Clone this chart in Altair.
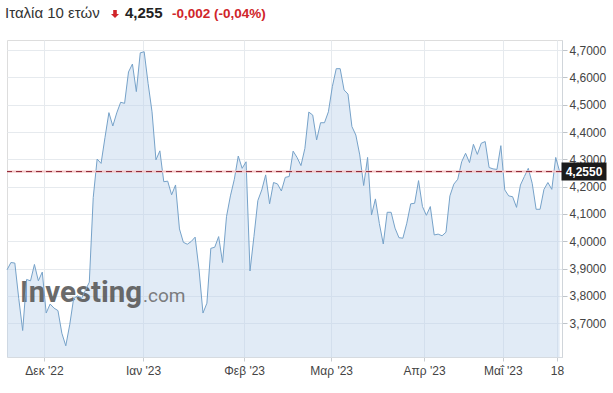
import json
import altair as alt
import pandas as pd

# ---- data (Italy 10Y yield) ----
yields = [
    3.895, 3.922, 3.920, 3.790, 3.673, 3.860, 3.855, 3.915, 3.855, 3.887,
    3.737, 3.770, 3.755, 3.746, 3.663, 3.617, 3.694, 3.790, 3.800, 3.790,
    3.820, 3.850, 4.160, 4.301, 4.285, 4.380, 4.471, 4.422, 4.470, 4.509,
    4.505, 4.620, 4.649, 4.548, 4.690, 4.694, 4.578, 4.474, 4.298, 4.331,
    4.218, 4.220, 4.170, 4.206, 4.045, 3.996, 3.989, 3.999, 4.015, 3.895,
    3.737, 3.773, 3.974, 3.978, 4.017, 3.922, 4.090, 4.166, 4.227, 4.312,
    4.267, 4.291, 3.891, 4.017, 4.149, 4.188, 4.243, 4.137, 4.215, 4.210,
    4.184, 4.234, 4.237, 4.330, 4.307, 4.277, 4.340, 4.473, 4.462, 4.371,
    4.434, 4.434, 4.474, 4.566, 4.632, 4.632, 4.554, 4.539, 4.420, 4.389,
    4.316, 4.204, 4.307, 4.096, 4.155, 4.065, 3.990, 4.106, 4.106, 4.048,
    4.013, 4.011, 4.066, 4.137, 4.139, 4.222, 4.127, 4.095, 4.127, 4.023,
    4.026, 4.020, 4.033, 4.166, 4.209, 4.227, 4.291, 4.322, 4.288, 4.355,
    4.318, 4.359, 4.365, 4.270, 4.265, 4.263, 4.350, 4.188, 4.166, 4.163,
    4.124, 4.206, 4.237, 4.267, 4.212, 4.117, 4.117, 4.190, 4.215, 4.190,
    4.307, 4.255,
]
tick_pos = [9.44, 34.7, 60.5, 82.7, 106.4, 126.5, 140.3]
tick_labels = ["Δεκ '22", "Ιαν '23", "Φεβ '23", "Μαρ '23", "Απρ '23", "Μαΐ '23", "18"]
y_ticks = [3.7, 3.8, 3.9, 4.0, 4.1, 4.2, 4.3, 4.4, 4.5, 4.6, 4.7]
last_price = [4.255]
title_name = "Ιταλία 10 ετών"
title_price = "4,255"
title_change = "-0,002 (-0,04%)"
box_label = "4,2550"

W, H = 555, 317
Y_DOMAIN = [3.576, 4.737]
X_DOMAIN = [0, 141.6]
FONT = "Liberation Sans"

df = pd.DataFrame({"i": list(range(len(yields))), "v": yields})
pdf = pd.DataFrame({"p": last_price})
one = pd.DataFrame({"k": [0]})

yscale = alt.Scale(domain=Y_DOMAIN, nice=False, zero=False)
xscale = alt.Scale(domain=X_DOMAIN, nice=False, zero=False)

label_expr = (
    json.dumps(tick_labels, ensure_ascii=False)
    + "[indexof(" + json.dumps(tick_pos) + ", datum.value)]"
)

x_axis = alt.Axis(
    values=tick_pos, labelExpr=label_expr, title=None,
    grid=True, gridColor="#e6eaee", domainColor="#d6dbe0",
    tickColor="#c8cdd2", tickSize=4, labelPadding=4,
    labelOverlap=False,
    labelFont=FONT, labelFontSize=12, labelColor="#444",
)
y_axis = alt.Axis(
    orient="right", values=y_ticks, title=None,
    labelExpr="replace(format(datum.value, '.4f'), '.', ',')",
    grid=True, gridColor="#e6eaee", domainColor="#d0d5da",
    tickColor="#bfc4c9", tickSize=5, labelPadding=2,
    labelOverlap=False, labelBound=False,
    labelFont=FONT, labelFontSize=12, labelColor="#444",
)
x_enc = alt.X("i:Q", scale=xscale, axis=x_axis)
y_enc = alt.Y("v:Q", scale=yscale, axis=y_axis)

base = alt.Chart(df)
area = base.mark_area(color="#bcd3ea", opacity=0.45).encode(
    x=x_enc, y=y_enc, y2=alt.datum(Y_DOMAIN[0])
)
line = base.mark_line(color="#76a2c9", strokeWidth=1).encode(x=x_enc, y=y_enc)

py = alt.Y("p:Q", scale=yscale, axis=y_axis)
rule_bg = alt.Chart(pdf).mark_rule(color="#f4c4c4", strokeWidth=2).encode(y=py)
rule_dash = alt.Chart(pdf).mark_rule(
    color="#8c1c2c", strokeWidth=1, strokeDash=[6, 4]
).encode(y=py)

box = alt.Chart(pdf).mark_point(
    shape="M-1,-0.4L1,-0.4L1,0.4L-1,0.4Z", filled=True, color="#1b1b1b",
    opacity=1, size=2025,
).encode(x=alt.value(577), y=py)
box_text = alt.Chart(pdf).mark_text(
    text=box_label, color="white", font=FONT, fontSize=12, fontWeight="bold",
    align="center", baseline="middle",
).encode(x=alt.value(577), y=py)

def label(text, x, y, **kw):
    return alt.Chart(one).mark_text(text=text, align="left",
                                    baseline="alphabetic", **kw).encode(
        x=alt.value(x), y=alt.value(y))

t_name = label(title_name, -2, -22, font=FONT, fontSize=15, color="#333")
t_arrow = alt.Chart(one).mark_point(
    shape="M-0.45,-1L0.45,-1L0.45,0L1,0L0,1L-1,0L-0.45,0Z",
    filled=True, color="#d0252a", opacity=1, size=64,
).encode(x=alt.value(108), y=alt.value(-26))
t_price = label(title_price, 118, -22, font=FONT, fontSize=15,
                fontWeight="bold", color="#222")
t_change = label(title_change, 165, -22, font=FONT, fontSize=13.5,
                 fontWeight="bold", color="#d0252a")

wm1 = label("Investing", 13, 262, font="Roboto", fontSize=29.5,
            fontWeight="bold", color="#5a5a5a", opacity=0.9)
wm2 = label(".com", 136, 262, font="Roboto", fontSize=19, color="#707070",
            opacity=0.9)

chart = alt.layer(
    area, wm1, wm2, line, rule_bg, rule_dash, box, box_text,
    t_name, t_arrow, t_price, t_change,
).properties(
    width=W, height=H,
    autosize=alt.AutoSizeParams(type="none"),
    padding={"left": 7, "top": 40, "right": 51, "bottom": 36},
).configure_axis(
    labelOverlap=False
).configure_view(stroke="transparent").configure(background="white")

chart.save("out.html", embed_options={"renderer": "svg", "actions": False})
